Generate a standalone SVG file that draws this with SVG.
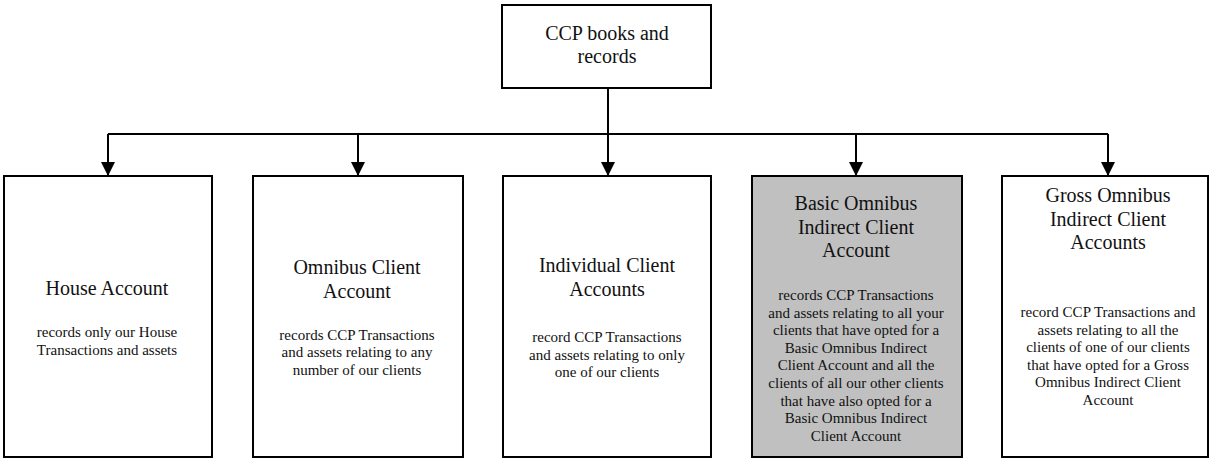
<svg xmlns="http://www.w3.org/2000/svg" width="1209" height="459" viewBox="0 0 1209 459">
<style>
.box{fill:#fff;stroke:#000;stroke-width:2}
.grey{fill:#c0c0c0}
.t{font-family:"Liberation Serif","Times New Roman",serif;font-size:20px;fill:#111;text-anchor:middle}
.s{font-family:"Liberation Serif","Times New Roman",serif;font-size:15px;fill:#111;text-anchor:middle}
.c{fill:none;stroke:#000;stroke-width:2}
</style>
<defs>
<marker id="ah" markerUnits="userSpaceOnUse" markerWidth="14" markerHeight="14" refX="14" refY="7" orient="auto">
<path d="M0,0 L14,7 L0,14 Z" fill="#000"/>
</marker>
</defs>
<g id="connectors">
<line class="c" x1="608" y1="88" x2="608" y2="176" marker-end="url(#ah)"/>
<line class="c" x1="108" y1="134" x2="1108" y2="134"/>
<line class="c" x1="108" y1="134" x2="108" y2="176" marker-end="url(#ah)"/>
<line class="c" x1="358" y1="134" x2="358" y2="176" marker-end="url(#ah)"/>
<line class="c" x1="856" y1="134" x2="856" y2="176" marker-end="url(#ah)"/>
<line class="c" x1="1108" y1="134" x2="1108" y2="176" marker-end="url(#ah)"/>
</g>
<g id="ccp">
<rect class="box" x="502" y="5" width="209" height="83"/>
<text class="t" x="607" y="40">CCP books and</text>
<text class="t" x="607" y="63">records</text>
</g>
<g id="house">
<rect class="box" x="4" y="176" width="208" height="281"/>
<text class="t" x="107" y="295">House Account</text>
<text class="s" x="107" y="337">records only our House</text>
<text class="s" x="107" y="354.5">Transactions and assets</text>
</g>
<g id="omnibus">
<rect class="box" x="253" y="176" width="210" height="281"/>
<text class="t" x="357" y="274">Omnibus Client</text>
<text class="t" x="357" y="297.5">Account</text>
<text class="s" x="357" y="339.5">records CCP Transactions</text>
<text class="s" x="357" y="357">and assets relating to any</text>
<text class="s" x="357" y="374.5">number of our clients</text>
</g>
<g id="individual">
<rect class="box" x="503" y="176" width="208" height="281"/>
<text class="t" x="607" y="272">Individual Client</text>
<text class="t" x="607" y="296">Accounts</text>
<text class="s" x="607" y="342">record CCP Transactions</text>
<text class="s" x="607" y="359.5">and assets relating to only</text>
<text class="s" x="607" y="377">one of our clients</text>
</g>
<g id="basic">
<rect class="box grey" x="752" y="176" width="210" height="281"/>
<text class="t" x="856" y="210">Basic Omnibus</text>
<text class="t" x="856" y="233.5">Indirect Client</text>
<text class="t" x="856" y="257">Account</text>
<text class="s" x="856" y="300">records CCP Transactions</text>
<text class="s" x="856" y="317.6">and assets relating to all your</text>
<text class="s" x="856" y="335.2">clients that have opted for a</text>
<text class="s" x="856" y="352.8">Basic Omnibus Indirect</text>
<text class="s" x="856" y="370.4">Client Account and all the</text>
<text class="s" x="856" y="388">clients of all our other clients</text>
<text class="s" x="856" y="405.6">that have also opted for a</text>
<text class="s" x="856" y="423.2">Basic Omnibus Indirect</text>
<text class="s" x="856" y="440.8">Client Account</text>
</g>
<g id="gross">
<rect class="box" x="1002" y="176" width="206" height="281"/>
<text class="t" x="1108" y="202">Gross Omnibus</text>
<text class="t" x="1108" y="225.5">Indirect Client</text>
<text class="t" x="1108" y="249">Accounts</text>
<text class="s" x="1108" y="317">record CCP Transactions and</text>
<text class="s" x="1108" y="334.6">assets relating to all the</text>
<text class="s" x="1108" y="352.2">clients of one of our clients</text>
<text class="s" x="1108" y="369.8">that have opted for a Gross</text>
<text class="s" x="1108" y="387.4">Omnibus Indirect Client</text>
<text class="s" x="1108" y="405">Account</text>
</g>
</svg>
